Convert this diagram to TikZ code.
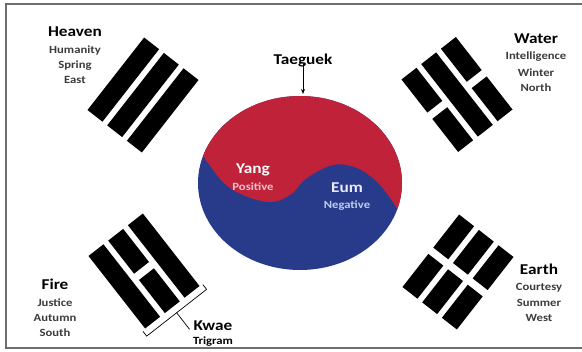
\documentclass[tikz,border=0pt]{standalone}
\usepackage{fontspec}
\setmainfont{Carlito}
\usepackage{graphicx}
\usetikzlibrary{arrows.meta}
\definecolor{tgred}{RGB}{192,34,58}
\definecolor{tgblue}{RGB}{40,58,138}
\definecolor{subgray}{RGB}{60,60,60}
\definecolor{framegray}{RGB}{110,110,110}
\definecolor{posink}{RGB}{238,196,204}
\definecolor{neglight}{RGB}{190,206,236}
\newcommand{\hst}[1]{\scalebox{1.15}[1]{#1}}
\newcommand{\tgsolid}[1]{\fill ({-46},{#1-9.5}) rectangle ({46},{#1+9.5});}
\newcommand{\tgbroken}[1]{\fill ({-46},{#1-9.5}) rectangle ({-4},{#1+9.5}); \fill ({4},{#1-9.5}) rectangle ({46},{#1+9.5});}
\begin{document}
\begin{tikzpicture}[x=1pt,y=-1pt,
  title/.style={font=\fontsize{15}{15}\selectfont\bfseries, text=black, inner sep=0pt},
  sub/.style={font=\fontsize{11}{11}\selectfont\bfseries, text=subgray, inner sep=0pt},
  intitle/.style={font=\fontsize{15}{15}\selectfont\bfseries, inner sep=0pt},
  insub/.style={font=\fontsize{11}{11}\selectfont\bfseries, inner sep=0pt},
]
\useasboundingbox (0,0) rectangle (582,352);
\fill[white] (0,0) rectangle (582,352);
\draw[framegray, line width=1.5] (582,4) -- (6,4) -- (6,348) -- (582,348);

% Taeguek
\fill[tgblue] (300,183) ellipse [x radius=102, y radius=87];
\begin{scope}
  \clip (300,183) ellipse [x radius=102, y radius=87];
  \fill[tgred] plot[smooth, tension=0.6] coordinates {(196,146) (203,156) (223,182) (243,195) (270,202) (290,195) (307,178) (333,165) (357,168) (377,182) (393,202) (401,217) (406,228)}
    -- (420,228) -- (420,80) -- (180,80) -- (180,146) -- cycle;
\end{scope}

% Trigrams
\begin{scope}[shift={(143,95)}, rotate=52]
  \tgsolid{-25}\tgsolid{0}\tgsolid{25}
\end{scope}
\begin{scope}[shift={(457,94.5)}, rotate=-52]
  \tgbroken{-25}\tgsolid{0}\tgbroken{25}
\end{scope}
\begin{scope}[shift={(144,271)}, rotate=-52]
  \tgsolid{-25}\tgbroken{0}\tgsolid{25}
  \draw[line width=0.7] (47,-38) -- (53,-38) -- (53,38) -- (47,38);
  \coordinate (kbase) at (53,0);
  \coordinate (kend) at (74,0);
\end{scope}
\begin{scope}[shift={(458,272)}, rotate=52]
  \tgbroken{-25}\tgbroken{0}\tgbroken{25}
\end{scope}

% Texts
\node[title] (heaven) at (75,32) {\hst{Heaven}};
\node[sub] (humanity) at (75,51) {\hst{Humanity}};
\node[sub] (spring) at (75,66) {\hst{Spring}};
\node[sub] (east) at (75,80) {\hst{East}};

\node[title] (water) at (536,39) {\hst{Water}};
\node[sub] (intel) at (536,57) {\hst{Intelligence}};
\node[sub] (winter) at (536,73) {\hst{Winter}};
\node[sub] (north) at (536,88) {\hst{North}};

\node[title] (fire) at (55,284) {\hst{Fire}};
\node[sub] (justice) at (55,303) {\hst{Justice}};
\node[sub] (autumn) at (55,318) {\hst{Autumn}};
\node[sub] (south) at (55,333) {\hst{South}};

\node[title] (earth) at (539,269) {\hst{Earth}};
\node[sub] (courtesy) at (539,288) {\hst{Courtesy}};
\node[sub] (summer) at (539,303) {\hst{Summer}};
\node[sub] (west) at (539,318) {\hst{West}};

\node[title] (kwae) at (213,326) {\hst{Kwae}};
\node[sub, text=black] (trigram) at (213,342) {\hst{Trigram}};
\draw[line width=0.7] (kbase) -- (kend);

\node[title] (taeguek) at (303,61) {\hst{Taeguek}};
\coordinate (tgtop) at (303,94);
\draw[line width=0.8, -{Stealth[length=5pt,width=4pt]}] (taeguek.south) ++(0,-4) -- (tgtop);

\node[intitle, text=white] (yang) at (253,170) {\hst{Yang}};
\node[insub, text=posink] (positive) at (253,187) {\hst{Positive}};
\node[intitle, text=white!92!blue] (eum) at (347,188) {\hst{Eum}};
\node[insub, text=neglight] (negative) at (347,206) {\hst{Negative}};
\end{tikzpicture}
\end{document}
